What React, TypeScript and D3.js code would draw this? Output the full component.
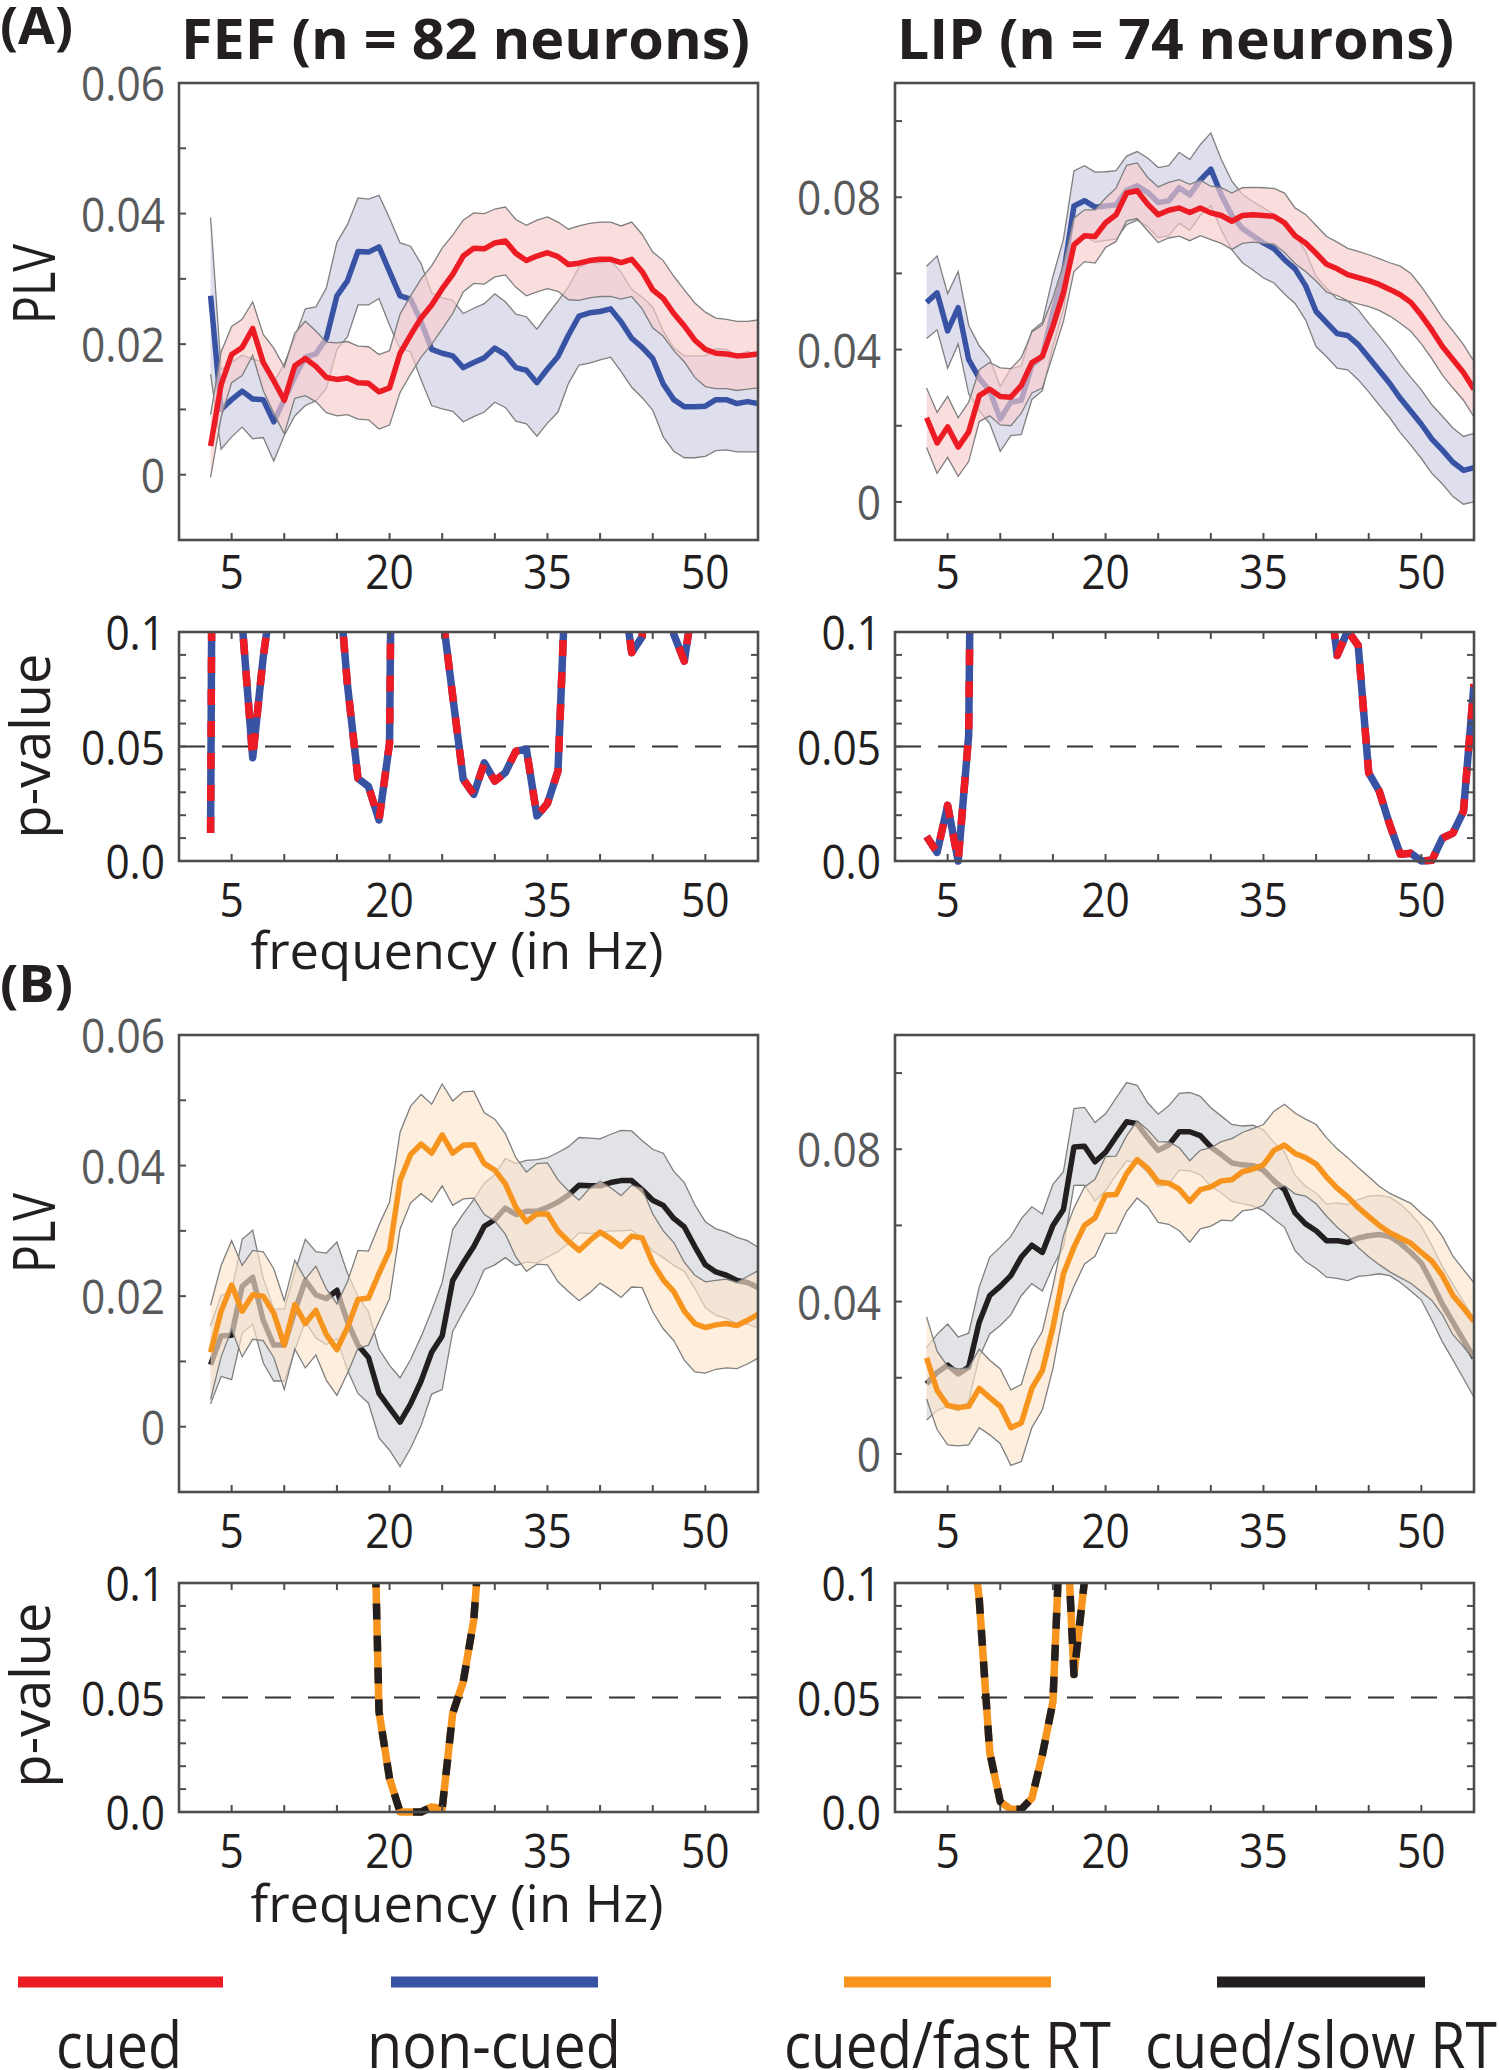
import React from "react";
import * as d3 from "d3";

// ---------------- DATA ----------------
const freqHz = [3, 4, 5, 6, 7, 8, 9, 10, 11, 12, 13, 14, 15, 16, 17, 18, 19, 20, 21, 22, 23, 24, 25, 26, 27, 28, 29, 30, 31, 32, 33, 34, 35, 36, 37, 38, 39, 40, 41, 42, 43, 44, 45, 46, 47, 48, 49, 50, 51, 52, 53, 54, 55];
const xTickValues = [5, 10, 15, 20, 25, 30, 35, 40, 45, 50];
const xTickLabelValues = [5, 20, 35, 50];

const fefYTicks = [0, 0.01, 0.02, 0.03, 0.04, 0.05];
const fefYLabelValues = [0, 0.02, 0.04, 0.06];
const fefYLabels = ["0", "0.02", "0.04", "0.06"];
const lipYTicks = [0, 0.02, 0.04, 0.06, 0.08, 0.1];
const lipYLabelValues = [0, 0.04, 0.08];
const lipYLabels = ["0", "0.04", "0.08"];
const pYTicks = [0, 0.01, 0.02, 0.03, 0.04, 0.05, 0.06, 0.07, 0.08, 0.09];
const pYLabelValues = [0, 0.05, 0.1];
const pYLabels = ["0.0", "0.05", "0.1"];

// (A) FEF, cued (red) / non-cued (blue)
const fefCuedMean = [
  0.0044, 0.0138, 0.0184, 0.0195, 0.0224, 0.0172, 0.0144, 0.0114, 0.0167, 0.0178,
  0.0166, 0.0149, 0.0146, 0.0148, 0.0141, 0.0140, 0.0127, 0.0133, 0.0186, 0.0214,
  0.0240, 0.0260, 0.0285, 0.0307, 0.0335, 0.0347, 0.0346, 0.0355, 0.0358, 0.0339,
  0.0328, 0.0335, 0.0340, 0.0334, 0.0322, 0.0324, 0.0328, 0.0330, 0.0330, 0.0325,
  0.0330, 0.0311, 0.0283, 0.0270, 0.0247, 0.0228, 0.0206, 0.0192, 0.0186, 0.0185,
  0.0182, 0.0183, 0.0185];
const fefCuedSem = [
  0.0048, 0.0050, 0.0043, 0.0043, 0.0041, 0.0043, 0.0050, 0.0051, 0.0050, 0.0057,
  0.0054, 0.0054, 0.0056, 0.0056, 0.0056, 0.0056, 0.0057, 0.0057, 0.0060, 0.0060,
  0.0060, 0.0060, 0.0062, 0.0060, 0.0055, 0.0054, 0.0054, 0.0052, 0.0052, 0.0052,
  0.0054, 0.0055, 0.0055, 0.0053, 0.0054, 0.0057, 0.0057, 0.0057, 0.0057, 0.0056,
  0.0057, 0.0057, 0.0058, 0.0058, 0.0057, 0.0055, 0.0057, 0.0057, 0.0054, 0.0053,
  0.0053, 0.0052, 0.0052];
const fefNonCuedMean = [
  0.0274, 0.0100, 0.0115, 0.0128, 0.0116, 0.0115, 0.0081, 0.0115, 0.0150, 0.0180,
  0.0185, 0.0209, 0.0274, 0.0297, 0.0342, 0.0341, 0.0349, 0.0311, 0.0274, 0.0269,
  0.0234, 0.0192, 0.0186, 0.0182, 0.0164, 0.0172, 0.0179, 0.0194, 0.0184, 0.0164,
  0.0160, 0.0141, 0.0162, 0.0181, 0.0214, 0.0243, 0.0248, 0.0250, 0.0254, 0.0234,
  0.0209, 0.0195, 0.0178, 0.0139, 0.0115, 0.0104, 0.0104, 0.0105, 0.0115, 0.0115,
  0.0109, 0.0112, 0.0109];
const fefNonCuedSem = [
  0.0120, 0.0061, 0.0057, 0.0055, 0.0061, 0.0058, 0.0060, 0.0055, 0.0060, 0.0074,
  0.0072, 0.0077, 0.0082, 0.0086, 0.0082, 0.0081, 0.0079, 0.0082, 0.0081, 0.0081,
  0.0089, 0.0086, 0.0085, 0.0085, 0.0083, 0.0083, 0.0083, 0.0083, 0.0081, 0.0082,
  0.0082, 0.0082, 0.0083, 0.0085, 0.0074, 0.0075, 0.0077, 0.0074, 0.0074, 0.0076,
  0.0075, 0.0077, 0.0079, 0.0081, 0.0079, 0.0078, 0.0078, 0.0077, 0.0078, 0.0077,
  0.0074, 0.0077, 0.0074];

// (A) LIP, cued (red) / non-cued (blue)
const lipCuedMean = [
  0.0221, 0.0155, 0.0197, 0.0144, 0.0184, 0.0279, 0.0296, 0.0277, 0.0275, 0.0306,
  0.0366, 0.0382, 0.0461, 0.0549, 0.0675, 0.0699, 0.0697, 0.0733, 0.0754, 0.0811,
  0.0817, 0.0782, 0.0754, 0.0766, 0.0772, 0.0760, 0.0772, 0.0759, 0.0752, 0.0737,
  0.0752, 0.0754, 0.0752, 0.0750, 0.0733, 0.0699, 0.0680, 0.0653, 0.0624, 0.0612,
  0.0597, 0.0589, 0.0581, 0.0571, 0.0558, 0.0544, 0.0524, 0.0490, 0.0451, 0.0408,
  0.0374, 0.0340, 0.0296];
const lipCuedSem = [
  0.0078, 0.0080, 0.0080, 0.0077, 0.0078, 0.0068, 0.0070, 0.0075, 0.0075, 0.0073,
  0.0080, 0.0083, 0.0075, 0.0075, 0.0070, 0.0068, 0.0070, 0.0065, 0.0070, 0.0073,
  0.0073, 0.0070, 0.0073, 0.0073, 0.0074, 0.0074, 0.0073, 0.0070, 0.0073, 0.0074,
  0.0073, 0.0072, 0.0073, 0.0073, 0.0078, 0.0073, 0.0075, 0.0073, 0.0073, 0.0070,
  0.0069, 0.0069, 0.0068, 0.0068, 0.0070, 0.0075, 0.0076, 0.0075, 0.0075, 0.0075,
  0.0075, 0.0073, 0.0073];
const lipNonCuedMean = [
  0.0524, 0.0549, 0.0449, 0.0510, 0.0374, 0.0325, 0.0291, 0.0218, 0.0262, 0.0267,
  0.0359, 0.0382, 0.0500, 0.0597, 0.0777, 0.0791, 0.0774, 0.0777, 0.0780, 0.0818,
  0.0830, 0.0813, 0.0786, 0.0791, 0.0825, 0.0806, 0.0845, 0.0874, 0.0806, 0.0752,
  0.0718, 0.0699, 0.0680, 0.0665, 0.0636, 0.0612, 0.0568, 0.0500, 0.0471, 0.0442,
  0.0437, 0.0413, 0.0379, 0.0345, 0.0311, 0.0272, 0.0238, 0.0204, 0.0165, 0.0136,
  0.0104, 0.0083, 0.0090];
const lipNonCuedSem = [
  0.0095, 0.0097, 0.0098, 0.0095, 0.0090, 0.0085, 0.0085, 0.0085, 0.0088, 0.0090,
  0.0090, 0.0090, 0.0092, 0.0093, 0.0092, 0.0092, 0.0092, 0.0090, 0.0090, 0.0090,
  0.0090, 0.0090, 0.0092, 0.0092, 0.0093, 0.0093, 0.0093, 0.0095, 0.0093, 0.0090,
  0.0090, 0.0090, 0.0092, 0.0090, 0.0090, 0.0091, 0.0090, 0.0092, 0.0090, 0.0091,
  0.0090, 0.0092, 0.0090, 0.0091, 0.0090, 0.0090, 0.0089, 0.0090, 0.0090, 0.0089,
  0.0090, 0.0089, 0.0090];

// (B) FEF, cued/fast RT (orange) / cued/slow RT (black)
const fefFastMean = [
  0.0114, 0.0177, 0.0217, 0.0177, 0.0202, 0.0200, 0.0174, 0.0125, 0.0187, 0.0158,
  0.0178, 0.0141, 0.0118, 0.0152, 0.0195, 0.0197, 0.0235, 0.0270, 0.0377, 0.0417,
  0.0433, 0.0419, 0.0447, 0.0419, 0.0431, 0.0432, 0.0403, 0.0393, 0.0372, 0.0336,
  0.0314, 0.0326, 0.0326, 0.0300, 0.0284, 0.0270, 0.0285, 0.0298, 0.0288, 0.0276,
  0.0292, 0.0289, 0.0251, 0.0225, 0.0207, 0.0177, 0.0158, 0.0152, 0.0156, 0.0158,
  0.0155, 0.0163, 0.0172];
const fefFastSem = [
  0.0072, 0.0070, 0.0068, 0.0070, 0.0068, 0.0068, 0.0068, 0.0068, 0.0068, 0.0068,
  0.0068, 0.0070, 0.0070, 0.0070, 0.0075, 0.0072, 0.0074, 0.0074, 0.0074, 0.0074,
  0.0076, 0.0075, 0.0078, 0.0080, 0.0082, 0.0082, 0.0078, 0.0078, 0.0077, 0.0076,
  0.0076, 0.0077, 0.0078, 0.0078, 0.0077, 0.0077, 0.0080, 0.0078, 0.0078, 0.0078,
  0.0078, 0.0076, 0.0075, 0.0075, 0.0075, 0.0075, 0.0074, 0.0070, 0.0068, 0.0068,
  0.0066, 0.0067, 0.0067];
const fefSlowMean = [
  0.0095, 0.0139, 0.0140, 0.0215, 0.0229, 0.0163, 0.0125, 0.0125, 0.0177, 0.0224,
  0.0202, 0.0196, 0.0209, 0.0161, 0.0125, 0.0106, 0.0051, 0.0029, 0.0007, 0.0035,
  0.0070, 0.0114, 0.0139, 0.0224, 0.0251, 0.0276, 0.0307, 0.0317, 0.0335, 0.0325,
  0.0330, 0.0330, 0.0336, 0.0344, 0.0355, 0.0370, 0.0369, 0.0369, 0.0374, 0.0377,
  0.0377, 0.0363, 0.0347, 0.0339, 0.0319, 0.0306, 0.0276, 0.0248, 0.0237, 0.0232,
  0.0224, 0.0221, 0.0213];
const fefSlowSem = [
  0.0060, 0.0062, 0.0068, 0.0072, 0.0072, 0.0065, 0.0055, 0.0055, 0.0060, 0.0063,
  0.0066, 0.0070, 0.0074, 0.0074, 0.0074, 0.0070, 0.0068, 0.0065, 0.0068, 0.0068,
  0.0068, 0.0064, 0.0082, 0.0078, 0.0075, 0.0072, 0.0066, 0.0069, 0.0076, 0.0078,
  0.0078, 0.0079, 0.0076, 0.0076, 0.0074, 0.0073, 0.0073, 0.0072, 0.0074, 0.0077,
  0.0076, 0.0075, 0.0078, 0.0080, 0.0072, 0.0068, 0.0064, 0.0066, 0.0066, 0.0066,
  0.0066, 0.0064, 0.0062];

// (B) LIP, cued/fast RT (orange) / cued/slow RT (black)
const lipFastMean = [
  0.0252, 0.0167, 0.0127, 0.0122, 0.0125, 0.0172, 0.0148, 0.0125, 0.0069, 0.0081,
  0.0172, 0.0219, 0.0332, 0.0473, 0.0543, 0.0600, 0.0620, 0.0680, 0.0681, 0.0736,
  0.0773, 0.0750, 0.0714, 0.0711, 0.0695, 0.0663, 0.0694, 0.0701, 0.0717, 0.0720,
  0.0741, 0.0748, 0.0759, 0.0797, 0.0811, 0.0789, 0.0778, 0.0761, 0.0727, 0.0698,
  0.0675, 0.0647, 0.0623, 0.0600, 0.0581, 0.0567, 0.0553, 0.0529, 0.0506, 0.0468,
  0.0416, 0.0383, 0.0348];
const lipFastSem = [
  0.0108, 0.0103, 0.0103, 0.0101, 0.0101, 0.0103, 0.0098, 0.0098, 0.0099, 0.0101,
  0.0103, 0.0103, 0.0108, 0.0101, 0.0103, 0.0101, 0.0101, 0.0101, 0.0101, 0.0099,
  0.0101, 0.0101, 0.0106, 0.0108, 0.0109, 0.0107, 0.0103, 0.0103, 0.0103, 0.0108,
  0.0103, 0.0106, 0.0106, 0.0103, 0.0107, 0.0106, 0.0101, 0.0104, 0.0103, 0.0103,
  0.0103, 0.0105, 0.0105, 0.0103, 0.0103, 0.0104, 0.0105, 0.0103, 0.0103, 0.0103,
  0.0103, 0.0101, 0.0101];
const lipSlowMean = [
  0.0184, 0.0214, 0.0233, 0.0210, 0.0228, 0.0346, 0.0416, 0.0440, 0.0468, 0.0517,
  0.0548, 0.0529, 0.0600, 0.0642, 0.0806, 0.0808, 0.0767, 0.0792, 0.0833, 0.0872,
  0.0867, 0.0830, 0.0797, 0.0811, 0.0846, 0.0846, 0.0836, 0.0806, 0.0786, 0.0764,
  0.0759, 0.0757, 0.0745, 0.0717, 0.0694, 0.0633, 0.0604, 0.0586, 0.0560, 0.0560,
  0.0555, 0.0567, 0.0573, 0.0576, 0.0571, 0.0553, 0.0529, 0.0501, 0.0449, 0.0393,
  0.0346, 0.0299, 0.0252];
const lipSlowSem = [
  0.0095, 0.0100, 0.0108, 0.0097, 0.0089, 0.0092, 0.0101, 0.0103, 0.0103, 0.0101,
  0.0101, 0.0101, 0.0108, 0.0099, 0.0101, 0.0102, 0.0103, 0.0101, 0.0101, 0.0103,
  0.0101, 0.0092, 0.0095, 0.0103, 0.0101, 0.0103, 0.0103, 0.0103, 0.0101, 0.0101,
  0.0102, 0.0106, 0.0106, 0.0101, 0.0099, 0.0099, 0.0099, 0.0099, 0.0096, 0.0099,
  0.0100, 0.0101, 0.0104, 0.0103, 0.0103, 0.0103, 0.0101, 0.0097, 0.0098, 0.0099,
  0.0099, 0.0101, 0.0103];

// p-values (values above 0.1 run off the top of the panel)
const pFefCue = [
  0.0122, 0.90, 0.35, 0.104, 0.0451, 0.0890, 0.122, 0.25, 0.40, 0.45,
  0.35, 0.20, 0.132, 0.077, 0.0361, 0.0325, 0.0179, 0.0514, 0.55, 0.35,
  0.30, 0.20, 0.109, 0.072, 0.0357, 0.0291, 0.0429, 0.0349, 0.0386, 0.0480,
  0.0488, 0.0197, 0.0252, 0.0393, 0.155, 0.30, 0.40, 0.35, 0.25, 0.125,
  0.091, 0.098, 0.20, 0.15, 0.099, 0.0873, 0.118, 0.25, 0.35, 0.40,
  0.30, 0.25, 0.20];
const pLipCue = [
  0.0107, 0.0038, 0.0243, 0.0, 0.055, 0.50, 0.60, 0.70, 0.55, 0.65,
  0.70, 0.80, 0.60, 0.50, 0.45, 0.55, 0.60, 0.70, 0.65, 0.50,
  0.55, 0.60, 0.70, 0.75, 0.65, 0.55, 0.50, 0.60, 0.55, 0.45,
  0.40, 0.50, 0.45, 0.35, 0.30, 0.25, 0.20, 0.15, 0.128, 0.0897,
  0.1005, 0.0941, 0.0385, 0.0305, 0.0158, 0.0029, 0.0034, 0.0, 0.0003, 0.0100,
  0.0122, 0.0217, 0.0773];
const pFefRT = [
  0.60, 0.55, 0.70, 0.50, 0.45, 0.60, 0.65, 0.55, 0.50, 0.60,
  0.55, 0.45, 0.40, 0.35, 0.30, 0.237, 0.0438, 0.0146, 0.0, 0.0,
  0.0, 0.0022, 0.0015, 0.0431, 0.0569, 0.0839, 0.145, 0.25, 0.35, 0.45,
  0.50, 0.55, 0.60, 0.55, 0.60, 0.65, 0.70, 0.60, 0.55, 0.50,
  0.55, 0.60, 0.65, 0.70, 0.60, 0.55, 0.50, 0.60, 0.65, 0.70,
  0.60, 0.55, 0.50];
const pLipRT = [
  0.40, 0.35, 0.30, 0.25, 0.133, 0.093, 0.026, 0.0045, 0.0012, 0.0012,
  0.0060, 0.0250, 0.0480, 0.157, 0.060, 0.101, 0.40, 0.55, 0.60, 0.65,
  0.70, 0.65, 0.60, 0.65, 0.70, 0.75, 0.70, 0.65, 0.60, 0.65,
  0.70, 0.75, 0.80, 0.75, 0.70, 0.65, 0.60, 0.55, 0.60, 0.65,
  0.70, 0.75, 0.70, 0.65, 0.60, 0.55, 0.50, 0.55, 0.60, 0.65,
  0.60, 0.55, 0.50];

const legendLabels = ["cued", "non-cued", "cued/fast RT", "cued/slow RT"];

// ---------------- STYLE / LAYOUT ----------------
const FONT = "'Open Sans', 'Noto Sans', 'DejaVu Sans', sans-serif";
const COLORS = {
  red: "#ED1C24",
  blue: "#3953A4",
  orange: "#F7941D",
  black: "#231F20",
  redFill: "#F7CCCC",
  blueFill: "#CCCCE3",
  orangeFill: "#FCE5CC",
  blackFill: "#D2D4D8",
  axis: "#4D4D4D",
  tickText: "#58595B",
  edge: "#7F7F7F",
};
const TICK_FONT = 48;
const COL_L = { x0: 179, x1: 758 };
const COL_R = { x0: 895, x1: 1474 };
const ROWS = { aPlv: [83, 540], aP: [632, 861], bPlv: [1035, 1492], bP: [1583, 1812] };
const legendLayout = [
  { x0: 18, x1: 223, tx: 56, tw: 126, color: COLORS.red },
  { x0: 391, x1: 598, tx: 367, tw: 254, color: COLORS.blue },
  { x0: 844, x1: 1051, tx: 784, tw: 327, color: COLORS.orange },
  { x0: 1217, x1: 1425, tx: 1145, tw: 352, color: COLORS.black },
];

// approximate a narrow (Myriad-like) numeric label width
function numWidth(s: string, size: number) {
  let w = 0;
  for (const ch of s) w += ch === "." ? 0.25 : 0.55;
  return w * size * 0.92;
}

type Series = { mean: number[]; sem: number[]; line: string; fill: string };
type Row = { f: number; m: number; s: number };

function makeX(x0: number, x1: number) {
  return d3.scaleLinear().domain([0, 55]).range([x0, x1]);
}

function NumText({ x, y, anchor, fill, children, dy }: { x: number; y: number; anchor: string; fill: string; children: string; dy?: string }) {
  return (
    <text x={x} y={y} dy={dy} textAnchor={anchor} fontSize={TICK_FONT} fill={fill}
      textLength={numWidth(children, TICK_FONT)} lengthAdjust="spacingAndGlyphs">
      {children}
    </text>
  );
}

function PlvPanel(props: {
  id: string;
  x0: number; x1: number; y0: number; y1: number;
  yDomain: [number, number];
  yTicks: number[]; yLabelValues: number[]; yLabels: string[];
  series: Series[];
  xLabelDy: number;
}) {
  const { id, x0, x1, y0, y1, yDomain, yTicks, yLabelValues, yLabels, series, xLabelDy } = props;
  const x = makeX(x0, x1);
  const y = d3.scaleLinear().domain(yDomain).range([y1, y0]);
  const area = d3.area<Row>().x((d) => x(d.f)).y0((d) => y(d.m - d.s)).y1((d) => y(d.m + d.s));
  const upper = d3.line<Row>().x((d) => x(d.f)).y((d) => y(d.m + d.s));
  const lower = d3.line<Row>().x((d) => x(d.f)).y((d) => y(d.m - d.s));
  const mid = d3.line<Row>().x((d) => x(d.f)).y((d) => y(d.m));
  const tl = 7;
  return (
    <g>
      <defs>
        <clipPath id={id}>
          <rect x={x0} y={y0} width={x1 - x0} height={y1 - y0} />
        </clipPath>
      </defs>
      <g clipPath={`url(#${id})`}>
        {series.map((s, k) => {
          const rows: Row[] = freqHz.map((f, i) => ({ f, m: s.mean[i], s: s.sem[i] }));
          return (
            <g key={k}>
              <path d={area(rows) || ""} fill={s.fill} fillOpacity={0.65} />
              <path d={upper(rows) || ""} fill="none" stroke={COLORS.edge} strokeWidth={1.3} />
              <path d={lower(rows) || ""} fill="none" stroke={COLORS.edge} strokeWidth={1.3} />
              <path d={mid(rows) || ""} fill="none" stroke={s.line} strokeWidth={5.5} strokeLinejoin="round" />
            </g>
          );
        })}
      </g>
      {yTicks.map((t) => (
        <line key={"yt" + t} x1={x0} x2={x0 + tl} y1={y(t)} y2={y(t)} stroke={COLORS.axis} strokeWidth={2} />
      ))}
      {xTickValues.map((t) => (
        <line key={"xt" + t} x1={x(t)} x2={x(t)} y1={y1} y2={y1 - tl} stroke={COLORS.axis} strokeWidth={2} />
      ))}
      <rect x={x0} y={y0} width={x1 - x0} height={y1 - y0} fill="none" stroke={COLORS.axis} strokeWidth={2.6} />
      {yLabelValues.map((v, i) => (
        <NumText key={"yl" + v} x={x0 - 14} y={y(v)} dy="0.38em" anchor="end" fill={COLORS.tickText}>
          {yLabels[i]}
        </NumText>
      ))}
      {xTickLabelValues.map((v) => (
        <NumText key={"xl" + v} x={x(v)} y={y1 + xLabelDy} anchor="middle" fill={COLORS.black}>
          {String(v)}
        </NumText>
      ))}
    </g>
  );
}

function PPanel(props: {
  id: string;
  x0: number; x1: number; y0: number; y1: number;
  p: number[]; base: string; dash: string;
}) {
  const { id, x0, x1, y0, y1, p, base, dash } = props;
  const x = makeX(x0, x1);
  const y = d3.scaleLinear().domain([0, 0.1]).range([y1, y0]);
  const line = d3.line<number>().x((_, i) => x(freqHz[i])).y((d) => y(d));
  const d = line(p) || "";
  const tl = 7;
  return (
    <g>
      <defs>
        <clipPath id={id}>
          <rect x={x0} y={y0} width={x1 - x0} height={y1 - y0 + 12} />
        </clipPath>
      </defs>
      <line x1={x0} x2={x1} y1={y(0.05)} y2={y(0.05)} stroke="#333333" strokeWidth={2} strokeDasharray="26 17" />
      <g clipPath={`url(#${id})`}>
        <path d={d} fill="none" stroke={base} strokeWidth={7.5} strokeLinejoin="round" />
        <path d={d} fill="none" stroke={dash} strokeWidth={7.5} strokeLinejoin="round" strokeDasharray="16 16" />
      </g>
      {pYTicks.map((t) => (
        <g key={"pt" + t}>
          <line x1={x0} x2={x0 + tl} y1={y(t)} y2={y(t)} stroke={COLORS.axis} strokeWidth={2} />
          <line x1={x1} x2={x1 - tl} y1={y(t)} y2={y(t)} stroke={COLORS.axis} strokeWidth={2} />
        </g>
      ))}
      {xTickValues.map((t) => (
        <g key={"px" + t}>
          <line x1={x(t)} x2={x(t)} y1={y1} y2={y1 - tl} stroke={COLORS.axis} strokeWidth={2} />
          <line x1={x(t)} x2={x(t)} y1={y0} y2={y0 + tl} stroke={COLORS.axis} strokeWidth={2} />
        </g>
      ))}
      <rect x={x0} y={y0} width={x1 - x0} height={y1 - y0} fill="none" stroke={COLORS.axis} strokeWidth={2.6} />
      {pYLabelValues.map((v, i) => (
        <NumText key={"pl" + v} x={x0 - 14} y={y(v)} dy="0.38em" anchor="end" fill={COLORS.black}>
          {pYLabels[i]}
        </NumText>
      ))}
      {xTickLabelValues.map((v) => (
        <NumText key={"pxl" + v} x={x(v)} y={y1 + 56} anchor="middle" fill={COLORS.black}>
          {String(v)}
        </NumText>
      ))}
    </g>
  );
}

function RotLabel({ x, y, w, size, children }: { x: number; y: number; w: number; size: number; children: string }) {
  return (
    <text transform={`translate(${x},${y}) rotate(-90)`} textAnchor="middle" fontSize={size} fill={COLORS.black}
      textLength={w} lengthAdjust="spacingAndGlyphs">
      {children}
    </text>
  );
}

export default function App() {
  const cueFef: Series[] = [
    { mean: fefNonCuedMean, sem: fefNonCuedSem, line: COLORS.blue, fill: COLORS.blueFill },
    { mean: fefCuedMean, sem: fefCuedSem, line: COLORS.red, fill: COLORS.redFill },
  ];
  const cueLip: Series[] = [
    { mean: lipNonCuedMean, sem: lipNonCuedSem, line: COLORS.blue, fill: COLORS.blueFill },
    { mean: lipCuedMean, sem: lipCuedSem, line: COLORS.red, fill: COLORS.redFill },
  ];
  const rtFef: Series[] = [
    { mean: fefSlowMean, sem: fefSlowSem, line: COLORS.black, fill: COLORS.blackFill },
    { mean: fefFastMean, sem: fefFastSem, line: COLORS.orange, fill: COLORS.orangeFill },
  ];
  const rtLip: Series[] = [
    { mean: lipSlowMean, sem: lipSlowSem, line: COLORS.black, fill: COLORS.blackFill },
    { mean: lipFastMean, sem: lipFastSem, line: COLORS.orange, fill: COLORS.orangeFill },
  ];

  return (
    <svg width={1499} height={2070} viewBox="0 0 1499 2070" fontFamily={FONT}
      style={{ position: "absolute", left: 0, top: 0, background: "#ffffff" }}>
      <rect x={0} y={0} width={1499} height={2070} fill="#ffffff" />

      {/* panel labels and titles */}
      <text x={0} y={44} fontSize={52} fontWeight={700} fill={COLORS.black} textLength={73} lengthAdjust="spacingAndGlyphs">(A)</text>
      <text x={0} y={1002} fontSize={52} fontWeight={700} fill={COLORS.black} textLength={73} lengthAdjust="spacingAndGlyphs">(B)</text>
      <text x={181} y={59} fontSize={56} fontWeight={700} fill={COLORS.black} textLength={569} lengthAdjust="spacingAndGlyphs">FEF (n = 82 neurons)</text>
      <text x={897} y={59} fontSize={56} fontWeight={700} fill={COLORS.black} textLength={557} lengthAdjust="spacingAndGlyphs">LIP (n = 74 neurons)</text>

      {/* (A) */}
      <PlvPanel id="c1" x0={COL_L.x0} x1={COL_L.x1} y0={ROWS.aPlv[0]} y1={ROWS.aPlv[1]} yDomain={[-0.01, 0.06]}
        yTicks={fefYTicks} yLabelValues={fefYLabelValues} yLabels={fefYLabels} series={cueFef} xLabelDy={49} />
      <PlvPanel id="c2" x0={COL_R.x0} x1={COL_R.x1} y0={ROWS.aPlv[0]} y1={ROWS.aPlv[1]} yDomain={[-0.01, 0.11]}
        yTicks={lipYTicks} yLabelValues={lipYLabelValues} yLabels={lipYLabels} series={cueLip} xLabelDy={49} />
      <PPanel id="c3" x0={COL_L.x0} x1={COL_L.x1} y0={ROWS.aP[0]} y1={ROWS.aP[1]} p={pFefCue} base={COLORS.blue} dash={COLORS.red} />
      <PPanel id="c4" x0={COL_R.x0} x1={COL_R.x1} y0={ROWS.aP[0]} y1={ROWS.aP[1]} p={pLipCue} base={COLORS.blue} dash={COLORS.red} />

      {/* (B) */}
      <PlvPanel id="c5" x0={COL_L.x0} x1={COL_L.x1} y0={ROWS.bPlv[0]} y1={ROWS.bPlv[1]} yDomain={[-0.01, 0.06]}
        yTicks={fefYTicks} yLabelValues={fefYLabelValues} yLabels={fefYLabels} series={rtFef} xLabelDy={56} />
      <PlvPanel id="c6" x0={COL_R.x0} x1={COL_R.x1} y0={ROWS.bPlv[0]} y1={ROWS.bPlv[1]} yDomain={[-0.01, 0.11]}
        yTicks={lipYTicks} yLabelValues={lipYLabelValues} yLabels={lipYLabels} series={rtLip} xLabelDy={56} />
      <PPanel id="c7" x0={COL_L.x0} x1={COL_L.x1} y0={ROWS.bP[0]} y1={ROWS.bP[1]} p={pFefRT} base={COLORS.orange} dash={COLORS.black} />
      <PPanel id="c8" x0={COL_R.x0} x1={COL_R.x1} y0={ROWS.bP[0]} y1={ROWS.bP[1]} p={pLipRT} base={COLORS.orange} dash={COLORS.black} />

      {/* axis titles */}
      <RotLabel x={55} y={284} w={80} size={59}>PLV</RotLabel>
      <RotLabel x={55} y={1233} w={80} size={59}>PLV</RotLabel>
      <RotLabel x={50} y={746} w={185} size={54}>p-value</RotLabel>
      <RotLabel x={50} y={1695} w={185} size={54}>p-value</RotLabel>
      <text x={457} y={969} textAnchor="middle" fontSize={52} fill={COLORS.black} textLength={413} lengthAdjust="spacingAndGlyphs">frequency (in Hz)</text>
      <text x={457} y={1922} textAnchor="middle" fontSize={52} fill={COLORS.black} textLength={413} lengthAdjust="spacingAndGlyphs">frequency (in Hz)</text>

      {/* legend */}
      {legendLayout.map((l, i) => (
        <g key={"lg" + i}>
          <line x1={l.x0} x2={l.x1} y1={1982} y2={1982} stroke={l.color} strokeWidth={11} />
          <text x={l.tx} y={2068} fontSize={64} fill={COLORS.black} textLength={l.tw} lengthAdjust="spacingAndGlyphs">
            {legendLabels[i]}
          </text>
        </g>
      ))}
    </svg>
  );
}
